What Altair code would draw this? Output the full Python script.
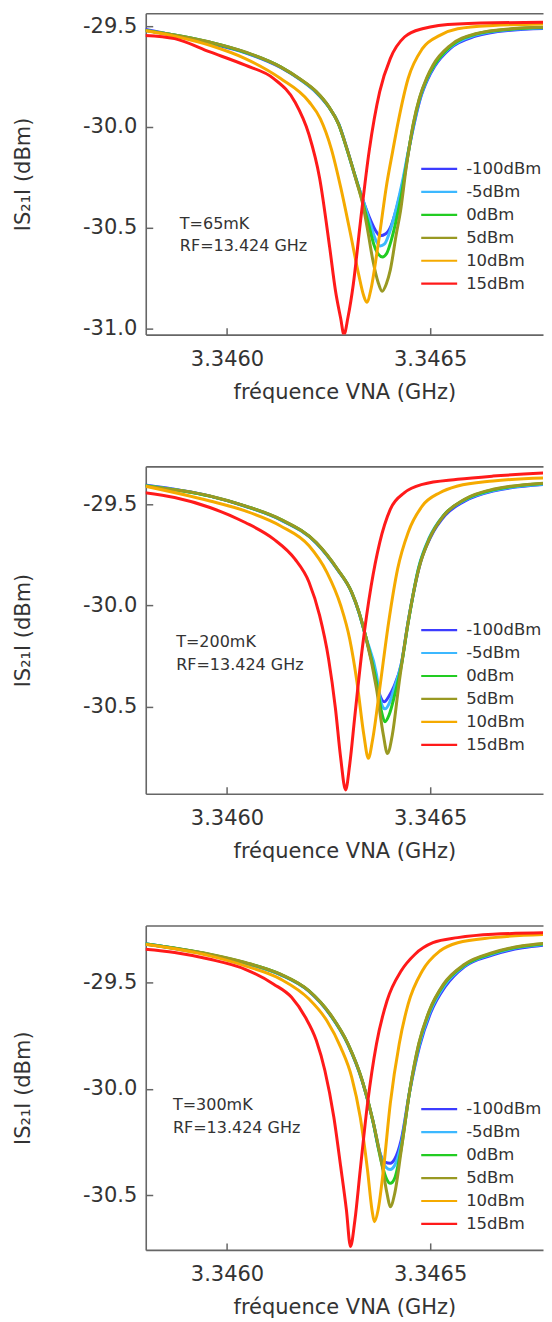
import altair as alt
import pandas as pd

FONT = "DejaVu Sans"
TXT = "#333333"
FRAME = "#666666"

SERIES = ["-100dBm", "-5dBm", "0dBm", "5dBm", "10dBm", "15dBm"]
COLORS = ["#3c3cff", "#3cb8ff", "#22cc22", "#999922", "#f5aa00", "#ff1a1a"]
WIDTHS = [3.0, 3.0, 2.8, 2.8, 2.5, 2.5]

X_TITLE = "fréquence VNA (GHz)"
Y_TITLE = "IS₂₁I (dBm)"
X_DOMAIN = [3.3458, 3.346778]
X_TICKS = [3.3460, 3.3465]

Y_DOMAIN_1 = [-31.030, -29.436]
Y_DOMAIN_2 = [-30.929, -29.313]
Y_DOMAIN_3 = [-30.758, -29.232]
Y_TICKS_1 = [-29.5, -30.0, -30.5, -31.0]
Y_TICKS_2 = [-29.5, -30.0, -30.5]
Y_TICKS_3 = [-29.5, -30.0, -30.5]

ANN_1 = ["T=65mK", "RF=13.424 GHz"]
ANN_2 = ["T=200mK", "RF=13.424 GHz"]
ANN_3 = ["T=300mK", "RF=13.424 GHz"]
ANN_F = [3.345884, 3.345875, 3.345867]
ANN_DB_1 = [-30.505, -30.614]
ANN_DB_2 = [-30.204, -30.319]
ANN_DB_3 = [-30.100, -30.206]

# ---------------- panel 1 : T = 65 mK ----------------
P1_M100 = [(3.345797, -29.515), (3.345958, -29.585), (3.346045, -29.632), (3.346132, -29.705),
           (3.346180, -29.765), (3.346220, -29.830), (3.346250, -29.900), (3.346275, -29.985),
           (3.346295, -30.105), (3.346315, -30.240), (3.346335, -30.365), (3.346354, -30.465),
           (3.346366, -30.515), (3.346377, -30.540), (3.346391, -30.530), (3.346404, -30.490),
           (3.346418, -30.400), (3.346433, -30.275), (3.346447, -30.120), (3.346463, -29.965),
           (3.346476, -29.860), (3.346495, -29.760), (3.346511, -29.700), (3.346550, -29.610),
           (3.346612, -29.550), (3.346699, -29.520), (3.346800, -29.510)]
P1_M5 = [(3.345797, -29.520), (3.345958, -29.580), (3.346045, -29.630), (3.346132, -29.703),
         (3.346180, -29.764), (3.346220, -29.828), (3.346250, -29.899), (3.346275, -29.986),
         (3.346295, -30.110), (3.346316, -30.250), (3.346336, -30.370), (3.346352, -30.475),
         (3.346365, -30.555), (3.346377, -30.590), (3.346388, -30.580), (3.346400, -30.525),
         (3.346416, -30.410), (3.346432, -30.270), (3.346446, -30.125), (3.346462, -29.965),
         (3.346475, -29.858), (3.346494, -29.757), (3.346509, -29.700), (3.346550, -29.605),
         (3.346612, -29.545), (3.346699, -29.517), (3.346800, -29.508)]
P1_0 = [(3.345797, -29.520), (3.345958, -29.580), (3.346045, -29.630), (3.346132, -29.702),
        (3.346180, -29.763), (3.346220, -29.826), (3.346250, -29.898), (3.346275, -29.987),
        (3.346296, -30.115), (3.346318, -30.260), (3.346335, -30.380), (3.346350, -30.495),
        (3.346362, -30.585), (3.346373, -30.632), (3.346383, -30.645), (3.346393, -30.628),
        (3.346404, -30.565), (3.346417, -30.460), (3.346430, -30.330), (3.346445, -30.145),
        (3.346460, -29.975), (3.346474, -29.858), (3.346493, -29.755), (3.346509, -29.697),
        (3.346550, -29.600), (3.346612, -29.540), (3.346699, -29.515), (3.346800, -29.506)]
P1_5 = [(3.345797, -29.521), (3.345958, -29.579), (3.346045, -29.628), (3.346132, -29.702),
        (3.346180, -29.762), (3.346220, -29.825), (3.346250, -29.897), (3.346275, -29.988),
        (3.346297, -30.120), (3.346318, -30.265), (3.346335, -30.390), (3.346347, -30.520),
        (3.346359, -30.660), (3.346372, -30.770), (3.346382, -30.815), (3.346392, -30.780),
        (3.346402, -30.710), (3.346417, -30.530), (3.346427, -30.420), (3.346441, -30.205),
        (3.346458, -29.990), (3.346474, -29.855), (3.346492, -29.755), (3.346507, -29.694),
        (3.346550, -29.595), (3.346612, -29.538), (3.346699, -29.513), (3.346800, -29.505)]
P1_10 = [(3.345797, -29.521), (3.345958, -29.595), (3.346045, -29.661), (3.346132, -29.760),
         (3.346202, -29.875), (3.346230, -29.960), (3.346257, -30.110), (3.346280, -30.300),
         (3.346304, -30.530), (3.346324, -30.730), (3.346337, -30.840), (3.346344, -30.869),
         (3.346355, -30.800), (3.346365, -30.680), (3.346376, -30.530), (3.346392, -30.300),
         (3.346408, -30.120), (3.346422, -29.970), (3.346446, -29.760), (3.346481, -29.612),
         (3.346524, -29.546), (3.346568, -29.513), (3.346655, -29.497), (3.346800, -29.489)]
P1_15 = [(3.345797, -29.546), (3.345871, -29.562), (3.345958, -29.628), (3.346045, -29.694),
         (3.346115, -29.760), (3.346167, -29.875), (3.346202, -30.039), (3.346228, -30.253),
         (3.346253, -30.600), (3.346267, -30.811), (3.346280, -30.950), (3.346288, -31.030),
         (3.346298, -30.943), (3.346311, -30.780), (3.346328, -30.480), (3.346350, -30.120),
         (3.346376, -29.825), (3.346402, -29.661), (3.346437, -29.554), (3.346481, -29.513),
         (3.346568, -29.489), (3.346800, -29.480)]

# ---------------- panel 2 : T = 200 mK ----------------
P2_M100 = [(3.345797, -29.405), (3.345958, -29.460), (3.346045, -29.510), (3.346132, -29.577),
           (3.346220, -29.692), (3.346272, -29.823), (3.346307, -29.936), (3.346325, -30.035),
           (3.346341, -30.150), (3.346363, -30.330), (3.346376, -30.440), (3.346387, -30.475),
           (3.346398, -30.450), (3.346411, -30.400), (3.346429, -30.290), (3.346446, -30.080),
           (3.346476, -29.790), (3.346502, -29.660), (3.346537, -29.555), (3.346585, -29.485),
           (3.346655, -29.435), (3.346800, -29.400)]
P2_M5 = [(3.345797, -29.407), (3.345958, -29.460), (3.346045, -29.509), (3.346132, -29.576),
         (3.346220, -29.691), (3.346272, -29.822), (3.346307, -29.935), (3.346325, -30.034),
         (3.346341, -30.150), (3.346368, -30.340), (3.346378, -30.470), (3.346389, -30.510),
         (3.346400, -30.480), (3.346413, -30.400), (3.346429, -30.290), (3.346446, -30.080),
         (3.346472, -29.810), (3.346498, -29.665), (3.346533, -29.555), (3.346585, -29.480),
         (3.346655, -29.432), (3.346800, -29.398)]
P2_0 = [(3.345797, -29.408), (3.345958, -29.460), (3.346045, -29.509), (3.346132, -29.575),
        (3.346220, -29.690), (3.346272, -29.821), (3.346307, -29.935), (3.346325, -30.033),
        (3.346341, -30.149), (3.346368, -30.380), (3.346380, -30.520), (3.346389, -30.574),
        (3.346399, -30.540), (3.346413, -30.440), (3.346429, -30.300), (3.346446, -30.085),
        (3.346472, -29.815), (3.346498, -29.670), (3.346533, -29.556), (3.346585, -29.477),
        (3.346655, -29.428), (3.346800, -29.395)]
P2_5 = [(3.345797, -29.410), (3.345958, -29.459), (3.346045, -29.508), (3.346132, -29.574),
        (3.346220, -29.689), (3.346272, -29.820), (3.346307, -29.934), (3.346325, -30.032),
        (3.346341, -30.148), (3.346368, -30.410), (3.346385, -30.639), (3.346395, -30.730),
        (3.346407, -30.639), (3.346424, -30.377), (3.346446, -30.082), (3.346472, -29.820),
        (3.346498, -29.672), (3.346533, -29.557), (3.346585, -29.475), (3.346655, -29.426),
        (3.346800, -29.393)]
P2_10 = [(3.345797, -29.410), (3.345958, -29.484), (3.346045, -29.533), (3.346132, -29.607),
         (3.346202, -29.705), (3.346246, -29.836), (3.346280, -30.000), (3.346302, -30.164),
         (3.346320, -30.377), (3.346337, -30.639), (3.346348, -30.754), (3.346359, -30.656),
         (3.346376, -30.410), (3.346398, -30.082), (3.346420, -29.820), (3.346446, -29.639),
         (3.346481, -29.508), (3.346524, -29.443), (3.346568, -29.410), (3.346655, -29.385),
         (3.346800, -29.369)]
P2_15 = [(3.345797, -29.443), (3.345871, -29.467), (3.345958, -29.516), (3.346045, -29.590),
         (3.346115, -29.672), (3.346167, -29.770), (3.346202, -29.885), (3.346228, -30.049),
         (3.346250, -30.262), (3.346267, -30.508), (3.346280, -30.754), (3.346292, -30.910),
         (3.346302, -30.787), (3.346315, -30.541), (3.346333, -30.213), (3.346355, -29.902),
         (3.346376, -29.689), (3.346402, -29.525), (3.346437, -29.443), (3.346481, -29.402),
         (3.346568, -29.377), (3.346655, -29.361), (3.346800, -29.344)]

# ---------------- panel 3 : T = 300 mK ----------------
P3_M100 = [(3.345797, -29.318), (3.345958, -29.370), (3.346045, -29.410), (3.346132, -29.464),
           (3.346202, -29.542), (3.346254, -29.652), (3.346298, -29.792), (3.346333, -29.964),
           (3.346359, -30.150), (3.346376, -30.300), (3.346389, -30.345), (3.346402, -30.350),
           (3.346413, -30.330), (3.346429, -30.240), (3.346450, -30.010), (3.346474, -29.800),
           (3.346502, -29.640), (3.346537, -29.520), (3.346585, -29.425), (3.346655, -29.370),
           (3.346800, -29.320)]
P3_M5 = [(3.345797, -29.318), (3.345958, -29.369), (3.346045, -29.408), (3.346132, -29.463),
         (3.346202, -29.541), (3.346254, -29.651), (3.346298, -29.791), (3.346333, -29.963),
         (3.346359, -30.150), (3.346381, -30.330), (3.346392, -30.370), (3.346402, -30.380),
         (3.346413, -30.360), (3.346429, -30.260), (3.346450, -30.009), (3.346473, -29.796),
         (3.346500, -29.638), (3.346535, -29.516), (3.346585, -29.421), (3.346655, -29.365),
         (3.346800, -29.317)]
P3_0 = [(3.345797, -29.318), (3.345958, -29.368), (3.346045, -29.407), (3.346132, -29.462),
        (3.346202, -29.540), (3.346254, -29.650), (3.346298, -29.790), (3.346333, -29.962),
        (3.346359, -30.150), (3.346381, -30.352), (3.346392, -30.420), (3.346402, -30.445),
        (3.346413, -30.420), (3.346429, -30.280), (3.346450, -30.008), (3.346472, -29.792),
        (3.346498, -29.636), (3.346533, -29.512), (3.346585, -29.418), (3.346655, -29.362),
        (3.346800, -29.315)]
P3_5 = [(3.345797, -29.320), (3.345958, -29.367), (3.346045, -29.406), (3.346132, -29.461),
        (3.346202, -29.539), (3.346254, -29.648), (3.346298, -29.789), (3.346333, -29.961),
        (3.346359, -30.148), (3.346381, -30.352), (3.346394, -30.492), (3.346402, -30.555),
        (3.346413, -30.492), (3.346429, -30.289), (3.346450, -30.008), (3.346472, -29.789),
        (3.346498, -29.633), (3.346533, -29.508), (3.346585, -29.414), (3.346655, -29.359),
        (3.346800, -29.313)]
P3_10 = [(3.345797, -29.320), (3.345958, -29.375), (3.346045, -29.422), (3.346132, -29.484),
         (3.346202, -29.578), (3.346246, -29.680), (3.346280, -29.805), (3.346307, -29.945),
         (3.346328, -30.133), (3.346346, -30.383), (3.346357, -30.570), (3.346363, -30.625),
         (3.346372, -30.570), (3.346385, -30.383), (3.346402, -30.070), (3.346424, -29.789),
         (3.346446, -29.602), (3.346481, -29.445), (3.346524, -29.352), (3.346568, -29.313),
         (3.346655, -29.289), (3.346800, -29.273)]
P3_15 = [(3.345797, -29.344), (3.345871, -29.359), (3.345958, -29.391), (3.346045, -29.438),
         (3.346115, -29.508), (3.346159, -29.570), (3.346193, -29.664), (3.346220, -29.773),
         (3.346241, -29.914), (3.346263, -30.133), (3.346280, -30.367), (3.346294, -30.570),
         (3.346304, -30.742), (3.346315, -30.617), (3.346328, -30.383), (3.346346, -30.070),
         (3.346368, -29.789), (3.346394, -29.586), (3.346429, -29.445), (3.346463, -29.367),
         (3.346507, -29.313), (3.346568, -29.289), (3.346655, -29.273), (3.346800, -29.266)]

Y_LABEL_EXPR = "replace(format(datum.value, '.1f'), '\u2212', '-')"
PLOT_W = 398


def make_panel(curves, ydom, yticks, height, ann_txt, ann_f, ann_db, legend_top):
    rows = []
    for name, pts in zip(SERIES, curves):
        for k, (f, v) in enumerate(pts):
            rows.append({"f": f, "db": v, "series": name, "k": k})
    df = pd.DataFrame(rows)

    xscale = alt.Scale(domain=X_DOMAIN, nice=False, zero=False)
    yscale = alt.Scale(domain=ydom, nice=False, zero=False)
    cscale = alt.Scale(domain=SERIES, range=COLORS)

    lines = alt.Chart(df).mark_line(clip=True, interpolate="monotone").encode(
        x=alt.X("f:Q", scale=xscale,
                axis=alt.Axis(orient="bottom", values=X_TICKS, format=".4f", title=X_TITLE,
                              domain=True, ticks=False, tickSize=0,
                              labelPadding=14, titlePadding=12)),
        y=alt.Y("db:Q", scale=yscale,
                axis=alt.Axis(orient="left", values=yticks, labelExpr=Y_LABEL_EXPR, title=Y_TITLE,
                              domain=True, ticks=False, tickSize=0,
                              labelPadding=9, titlePadding=49)),
        color=alt.Color("series:N", scale=cscale, legend=None),
        strokeWidth=alt.StrokeWidth("series:N", scale=alt.Scale(domain=SERIES, range=WIDTHS),
                                    legend=None),
        order="k:Q",
    )

    ann = pd.DataFrame({"f": [ann_f, ann_f], "db": ann_db, "txt": ann_txt})
    text = alt.Chart(ann).mark_text(align="left", baseline="alphabetic", font=FONT,
                                    fontSize=16, color=TXT).encode(
        x=alt.X("f:Q", scale=xscale,
                axis=alt.Axis(orient="bottom", values=X_TICKS, labels=False, title=None,
                              domain=False, ticks=True, tickSize=7, offset=-7)),
        y=alt.Y("db:Q", scale=yscale,
                axis=alt.Axis(orient="left", values=yticks, labels=False, title=None,
                              domain=False, ticks=True, tickSize=7, offset=-7)),
        text="txt:N")

    top = alt.Chart(ann).mark_point(opacity=0).encode(
        x=alt.X("f:Q", scale=xscale,
                axis=alt.Axis(orient="top", labels=False, ticks=False, title=None, domain=True)),
        y=alt.Y("db:Q", scale=yscale, axis=None))

    leg = pd.DataFrame({"series": SERIES})
    leg_y = alt.Y("series:N", axis=None,
                  scale=alt.Scale(type="point", domain=SERIES, padding=0,
                                  range=[legend_top, legend_top + 23 * (len(SERIES) - 1)]))
    leg_lines = alt.Chart(leg).mark_rule(strokeWidth=2.2).encode(
        x=alt.value(276), x2=alt.value(312), y=leg_y,
        color=alt.Color("series:N", scale=cscale, legend=None))
    leg_text = alt.Chart(leg).mark_text(align="left", baseline="middle", font=FONT,
                                        fontSize=16.5, color=TXT).encode(
        x=alt.value(321), y=leg_y, text="series:N")

    return (alt.layer(lines, text, top, leg_lines, leg_text)
            .resolve_scale(x="independent", y="independent")
            .properties(width=PLOT_W, height=height))


p1 = make_panel([P1_M100, P1_M5, P1_0, P1_5, P1_10, P1_15], Y_DOMAIN_1, Y_TICKS_1, 322,
                ANN_1, ANN_F[0], ANN_DB_1, 156)
p2 = make_panel([P2_M100, P2_M5, P2_0, P2_5, P2_10, P2_15], Y_DOMAIN_2, Y_TICKS_2, 328,
                ANN_2, ANN_F[1], ANN_DB_2, 164)
p3 = make_panel([P3_M100, P3_M5, P3_0, P3_5, P3_10, P3_15], Y_DOMAIN_3, Y_TICKS_3, 325,
                ANN_3, ANN_F[2], ANN_DB_3, 184)

chart = (
    alt.vconcat(p1, p2, p3, spacing=62)
    .resolve_scale(x="independent", y="independent", color="independent")
    .properties(padding={"left": 4, "top": 3, "right": 0, "bottom": -1})
    .configure_view(stroke="transparent")
    .configure_axis(labelFont=FONT, labelFontSize=21, labelColor=TXT,
                    titleFont=FONT, titleFontSize=21, titleFontWeight="normal", titleColor=TXT,
                    tickColor=FRAME, tickWidth=1.5, domainColor=FRAME, domainWidth=1.6,
                    grid=False)
)

chart.save("out.html", embed_options={"renderer": "svg", "actions": False})
